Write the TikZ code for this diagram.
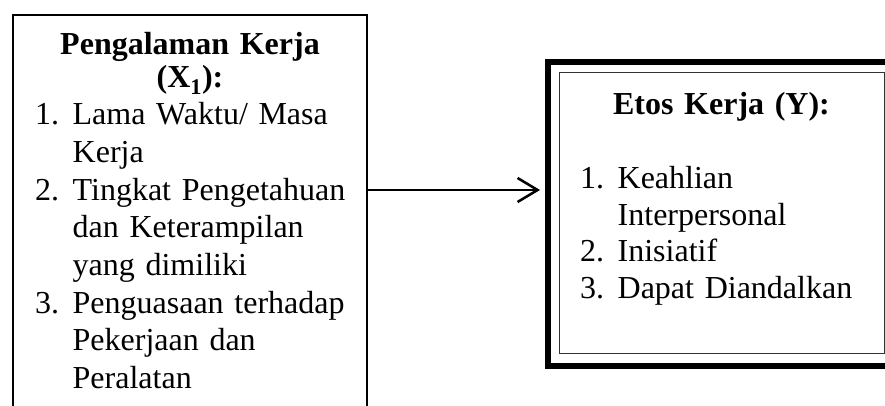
\documentclass[tikz,border=0pt]{standalone}
\usepackage{fontspec}
\setmainfont{Liberation Serif}
\usetikzlibrary{arrows.meta}
\hyphenpenalty=10000
\exhyphenpenalty=10000
\newcommand\butir[2]{\raggedright\noindent\hangindent=37.5pt\hangafter=1\makebox[37.5pt][l]{#1}#2\par}
\tikzset{
  kotak/.style={draw, line width=2.5pt, inner sep=0pt},
  teks/.style={inner sep=0pt, font=\fontsize{32}{36.4}\selectfont},
  judul/.style={teks, font=\fontsize{32}{33}\selectfont\bfseries, align=center, anchor=base},
  daftar/.style={teks, text width=#1, align=left, anchor=base west},
  panah/.style={line width=2.5pt, -{Straight Barb[length=20pt,width=24pt,line width=2.5pt]}}
}
\begin{document}
\begin{tikzpicture}[x=1pt,y=-1pt]
  \useasboundingbox (0,0) rectangle (885,406);
  \clip (0,0) rectangle (885,406);
  % kotak kiri
  \node[kotak, minimum width=354pt, minimum height=440pt] (pengalaman) at (190,235) {};
  \node[judul, text width=354pt] (judulX) at (190,55) {Pengalaman Kerja\\(X\textsubscript{1}):};
  \node[daftar=322pt, font=\fontsize{32}{37.6}\selectfont] (butirX) at (35,125) {%
    \butir{1.}{Lama Waktu/ Masa Kerja}%
    \butir{2.}{Tingkat Pengetahuan dan Keterampilan yang dimiliki}%
    \butir{3.}{Penguasaan terhadap Pekerjaan dan Peralatan}};
  % kotak kanan
  \node[kotak, line width=6pt, minimum width=360pt, minimum height=304pt] (bingkai) at (728,214) {};
  \node[kotak, line width=1pt, draw=black!80, minimum width=325pt, minimum height=280pt] (etos) at (721.5,213) {};
  \node[judul, text width=325pt] (judulY) at (721.5,115) {Etos Kerja (Y):};
  \node[daftar=298pt] (butirY) at (580,189) {%
    \butir{1.}{Keahlian Interpersonal}%
    \butir{2.}{Inisiatif}%
    \butir{3.}{Dapat Diandalkan}};
  % panah
  \coordinate (ujung) at (540,190);
  \draw[panah] (pengalaman.east |- ujung) -- (ujung);
\end{tikzpicture}
\end{document}
